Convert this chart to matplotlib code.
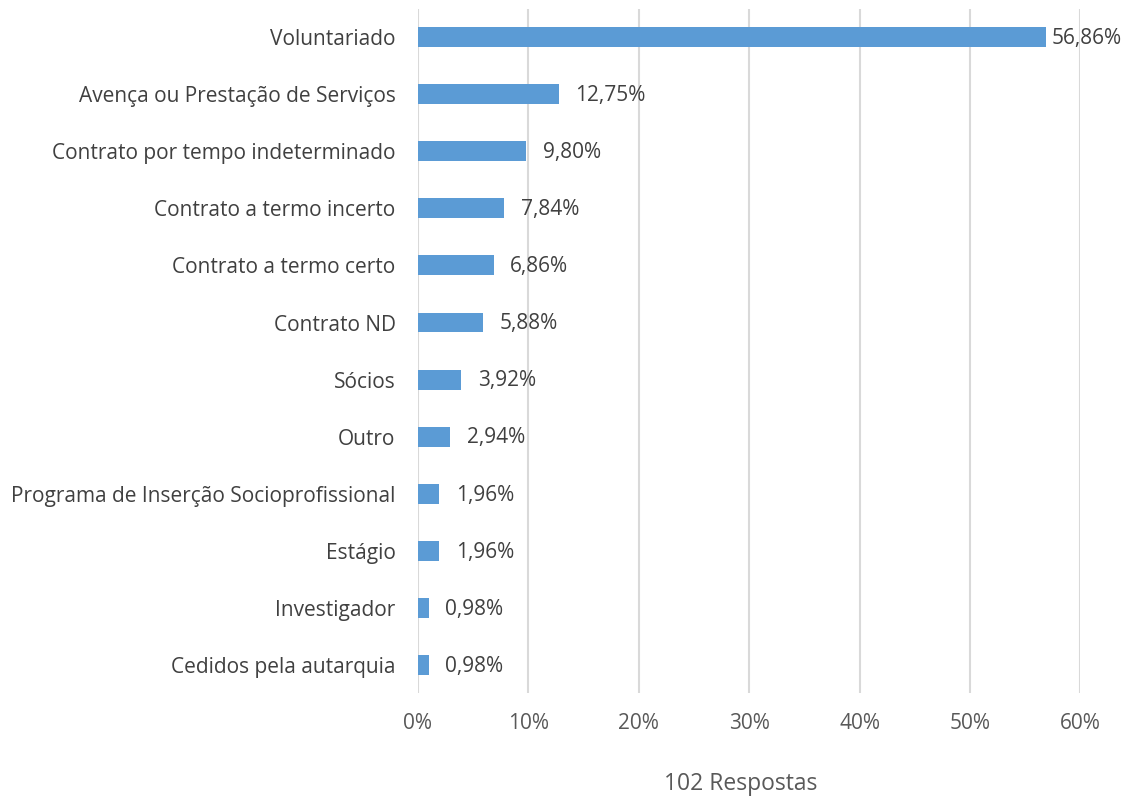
import matplotlib
matplotlib.use("Agg")
import matplotlib.pyplot as plt
from matplotlib.ticker import FuncFormatter

plt.rcParams['font.family'] = ['Open Sans', 'DejaVu Sans']

categorias = ['Voluntariado', 'Avença ou Prestação de Serviços', 'Contrato por tempo indeterminado',
              'Contrato a termo incerto', 'Contrato a termo certo', 'Contrato ND', 'Sócios', 'Outro',
              'Programa de Inserção Socioprofissional', 'Estágio', 'Investigador', 'Cedidos pela autarquia']
valores = [56.86, 12.75, 9.80, 7.84, 6.86, 5.88, 3.92, 2.94, 1.96, 1.96, 0.98, 0.98]

# ===== figure
fig = plt.figure(figsize=(11.29, 7.96), dpi=100)
ax = fig.add_axes([0.370, 0.129, 0.587, 0.860])

pos = list(range(len(categorias)))[::-1]
ax.barh(pos, valores, height=0.35, color='#5B9BD5', zorder=3)

for p, v in zip(pos, valores):
    pad = 4 if v > 50 else 12
    ax.annotate(f'{v:.2f}%'.replace('.', ','), (v, p), xytext=(pad, -1), textcoords='offset points',
                va='center', ha='left', fontsize=15, color='#404040')

ax.set_xlim(0, 60)
ax.set_ylim(-0.5, len(categorias) - 0.5)
ax.set_yticks(pos)
ax.set_yticklabels(categorias, fontsize=15, color='#404040')
ax.set_xticks(range(0, 61, 10))
ax.xaxis.set_major_formatter(FuncFormatter(lambda x, _: f'{int(x)}%'))
ax.tick_params(axis='x', labelsize=15, labelcolor='#595959', length=0, pad=14)
ax.tick_params(axis='y', length=0, pad=16)
ax.grid(axis='x', color='#D9D9D9', linewidth=1.5, zorder=0)
for s in ax.spines.values():
    s.set_visible(False)
ax.set_xlabel('102 Respostas', fontsize=16.5, color='#595959')
ax.xaxis.set_label_coords(0.488, -0.115)

fig.savefig('out.png', dpi=100)
